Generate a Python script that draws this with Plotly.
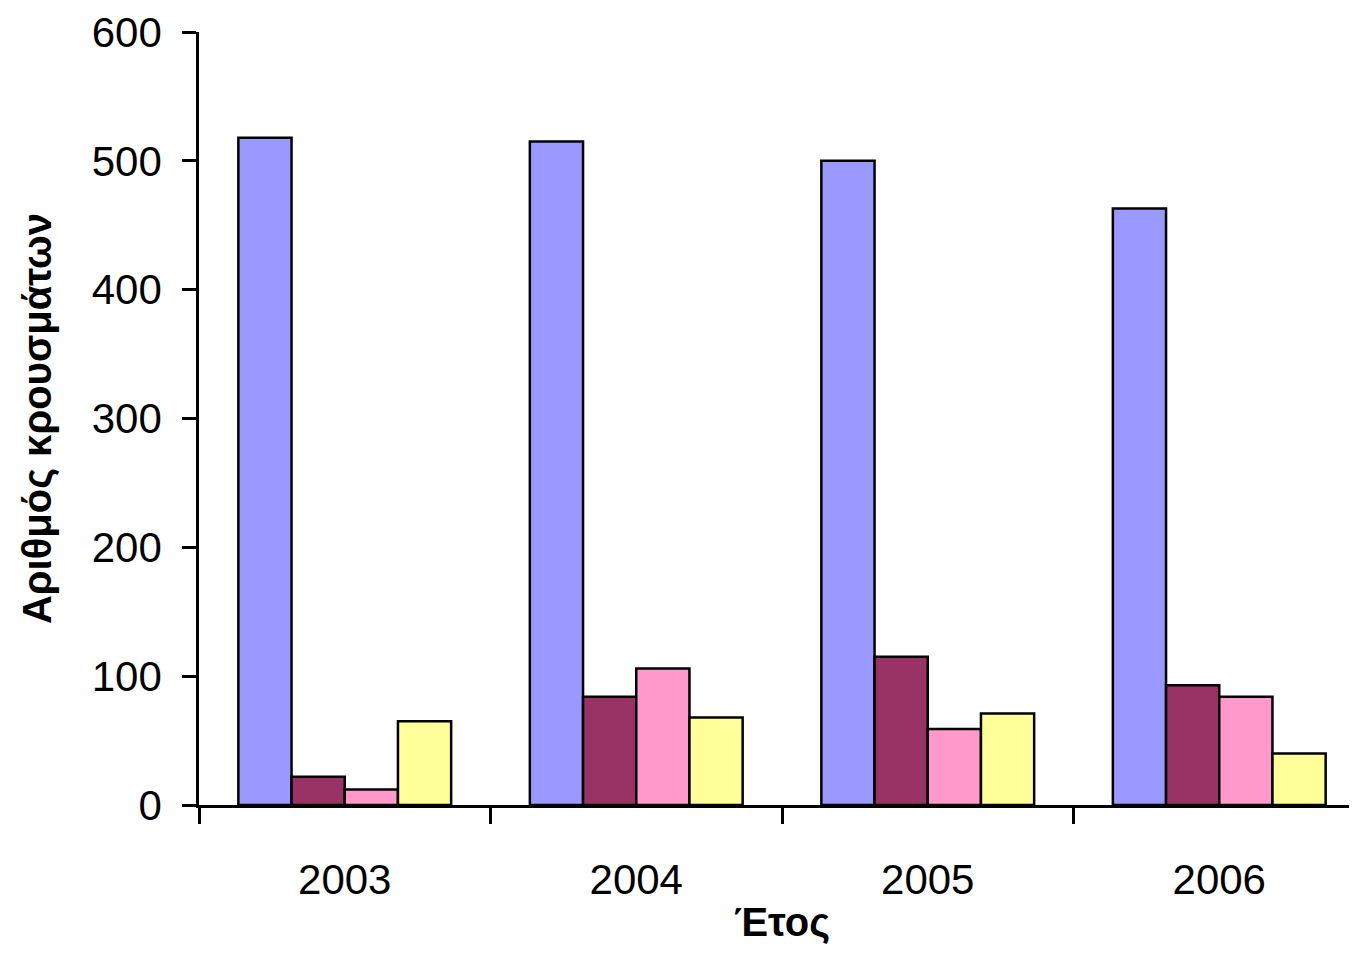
import plotly.graph_objects as go

years = ["2003", "2004", "2005", "2006"]
s1 = [518, 515, 500, 463]
s2 = [22, 84, 115, 93]
s3 = [12, 106, 59, 84]
s4 = [65, 68, 71, 40]
colors = ["#9999FF", "#993366", "#FF99CC", "#FFFF99"]

fig = go.Figure()
for vals, c in zip([s1, s2, s3, s4], colors):
    fig.add_trace(go.Bar(x=years, y=vals, marker=dict(color=c, line=dict(color="black", width=2.5))))

fig.update_layout(
    width=1357, height=957, plot_bgcolor="white", paper_bgcolor="white",
    showlegend=False, bargap=0.27, bargroupgap=0,
    margin=dict(l=191, r=0, t=24, b=160),
    font=dict(family="Liberation Sans, Arial", color="black", size=42),
)
fig.update_xaxes(
    showline=True, linecolor="black", linewidth=2.5, ticks="outside", tickson="boundaries",
    ticklen=16, tickwidth=2.5, tickcolor="black", ticklabelstandoff=36,
    title=dict(text="<b>Έτος</b>", font=dict(size=40), standoff=6),
)
fig.update_yaxes(
    range=[0, 600], dtick=100, showgrid=False, zeroline=False,
    showline=True, linecolor="black", linewidth=2.5, ticks="outside",
    ticklen=14, tickwidth=2.5, tickcolor="black", ticklabelstandoff=12,
    title=dict(text="<b>Αριθμός κρουσμάτων</b>", font=dict(size=40), standoff=28),
)
fig.write_html("out.html")
